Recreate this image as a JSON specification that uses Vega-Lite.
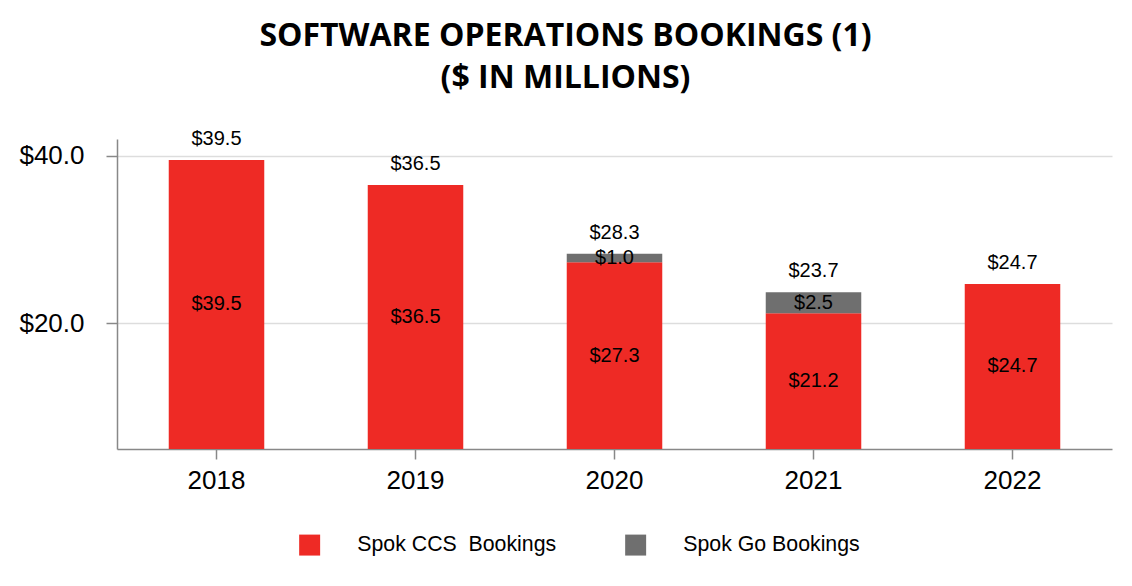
{
  "$schema": "https://vega.github.io/schema/vega-lite/v6.json",
  "width": 995,
  "height": 310,
  "autosize": {"type": "none"},
  "padding": {"left": 117, "top": 139, "right": 20, "bottom": 137},
  "background": "white",
  "config": {"view": {"stroke": null}},
  "title": {
    "text": ["SOFTWARE OPERATIONS BOOKINGS (1)", "($ IN MILLIONS)"],
    "font": "Open Sans",
    "fontWeight": "bold",
    "fontSize": 32,
    "color": "black",
    "anchor": "middle",
    "frame": "group",
    "dx": -49,
    "lineHeight": 42,
    "offset": 34
  },
  "data": {
    "values": [
      {"year": "2018", "series": "Spok CCS\u00a0 Bookings", "value": 39.5},
      {"year": "2019", "series": "Spok CCS\u00a0 Bookings", "value": 36.5},
      {"year": "2020", "series": "Spok CCS\u00a0 Bookings", "value": 27.3},
      {"year": "2020", "series": "Spok Go Bookings", "value": 1.0},
      {"year": "2021", "series": "Spok CCS\u00a0 Bookings", "value": 21.2},
      {"year": "2021", "series": "Spok Go Bookings", "value": 2.5},
      {"year": "2022", "series": "Spok CCS\u00a0 Bookings", "value": 24.7}
    ]
  },
  "encoding": {
    "x": {
      "field": "year",
      "type": "nominal",
      "scale": {"paddingInner": 0.52, "paddingOuter": 0.26},
      "axis": {
        "title": null,
        "labelAngle": 0,
        "labelFont": "Liberation Sans",
        "labelFontSize": 26,
        "labelColor": "black",
        "labelPadding": 8,
        "tickSize": 10,
        "tickColor": "#888888",
        "tickWidth": 1.5,
        "domainColor": "#888888",
        "domainWidth": 1.5,
        "grid": false
      }
    }
  },
  "layer": [
    {
      "mark": {"type": "bar"},
      "encoding": {
        "y": {
          "field": "value",
          "type": "quantitative",
          "stack": "zero",
          "scale": {"domain": [5, 42], "nice": false, "zero": false, "clamp": true},
          "axis": {
            "title": null,
            "values": [20, 40],
            "format": "$.1f",
            "labelFont": "Liberation Sans",
            "labelFontSize": 26,
            "labelColor": "black",
            "labelPadding": 22,
            "tickSize": 11,
            "tickColor": "#888888",
            "tickWidth": 1.5,
            "domainColor": "#888888",
            "domainWidth": 1.5,
            "gridColor": "#DDDDDD",
            "gridWidth": 1.5
          }
        },
        "color": {
          "field": "series",
          "type": "nominal",
          "scale": {
            "domain": ["Spok CCS\u00a0 Bookings", "Spok Go Bookings"],
            "range": ["#EE2A25", "#6F6F6F"]
          },
          "legend": {
            "title": null,
            "orient": "none",
            "direction": "horizontal",
            "legendX": 182,
            "legendY": 395,
            "padding": 0,
            "symbolType": "square",
            "symbolSize": 440,
            "symbolStrokeWidth": 0,
            "labelFont": "Liberation Sans",
            "labelFontSize": 21.3,
            "labelColor": "black",
            "labelOffset": 37,
            "columnPadding": 68,
            "labelLimit": 400
          }
        },
        "order": {"field": "series", "sort": "ascending"}
      }
    },
    {
      "transform": [
        {"stack": "value", "groupby": ["year"], "sort": [{"field": "series", "order": "ascending"}], "as": ["v0", "v1"]},
        {"calculate": "(max(datum.v0, 5) + datum.v1) / 2", "as": "mid"}
      ],
      "mark": {"type": "text", "font": "Liberation Sans", "fontSize": 20, "color": "black", "baseline": "middle"},
      "encoding": {
        "y": {"field": "mid", "type": "quantitative"},
        "text": {"field": "value", "type": "quantitative", "format": "$.1f"}
      }
    },
    {
      "transform": [
        {"aggregate": [{"op": "sum", "field": "value", "as": "total"}], "groupby": ["year"]}
      ],
      "mark": {"type": "text", "font": "Liberation Sans", "fontSize": 20, "color": "black", "baseline": "middle", "dy": -21},
      "encoding": {
        "y": {"field": "total", "type": "quantitative"},
        "text": {"field": "total", "type": "quantitative", "format": "$.1f"}
      }
    }
  ]
}
